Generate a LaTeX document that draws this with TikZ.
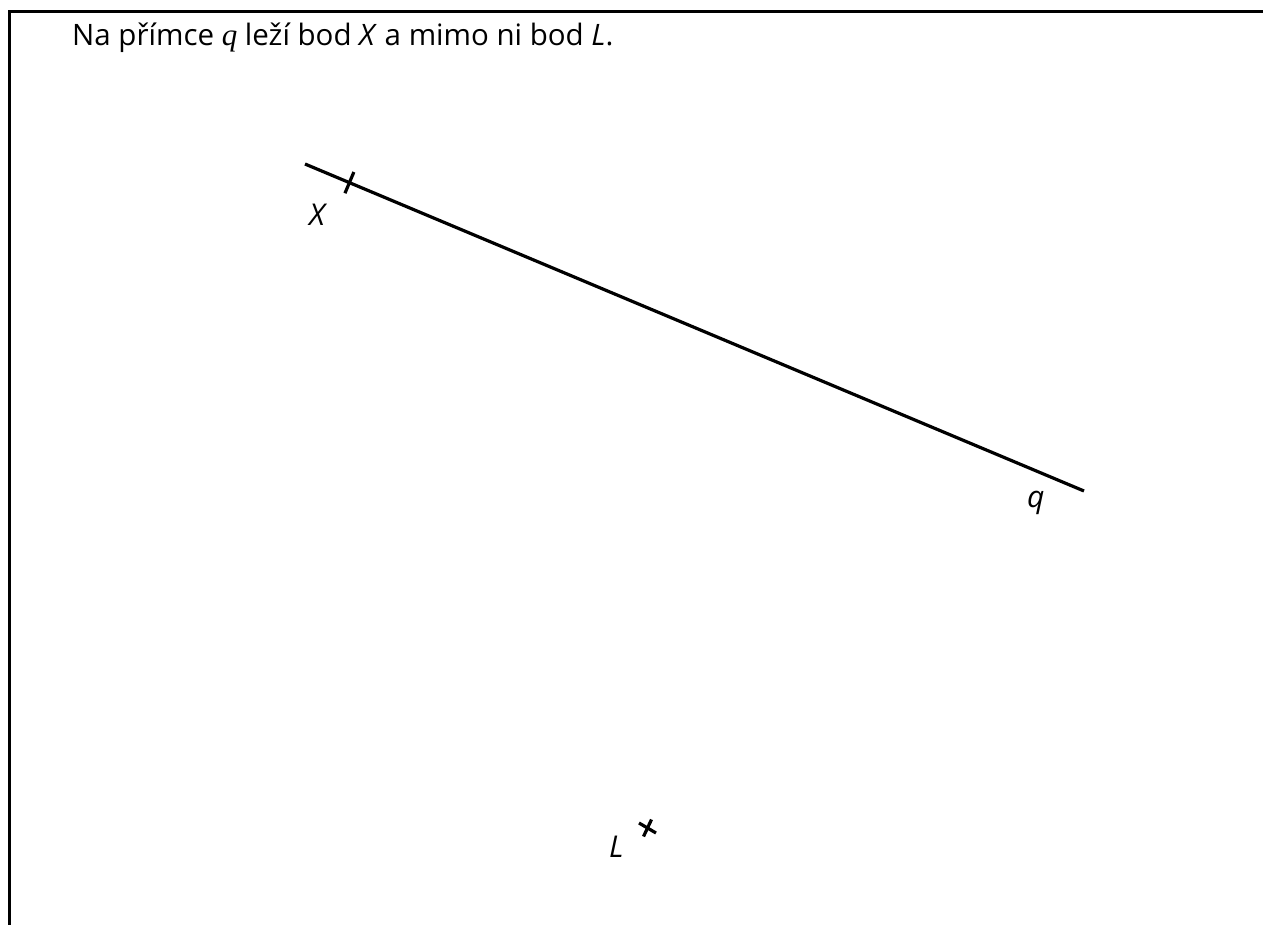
\documentclass[tikz,border=0pt]{standalone}
\usepackage{fontspec}
\setmainfont{Open Sans}
\newfontfamily\serifq{Liberation Serif}
\usetikzlibrary{calc}
\begin{document}
\begin{tikzpicture}[x=1pt,y=-1pt,
  frame/.style={line width=3pt},
  geomline/.style={line width=3.2pt},
  tick/.style={line width=3.2pt},
  lbl/.style={font=\fontsize{30}{36}\selectfont\itshape, inner sep=0pt, anchor=base west},
  title/.style={font=\fontsize{29.5}{35}\selectfont, inner sep=0pt, anchor=base west}]
\useasboundingbox (0,0) rectangle (1263,925);
% frame
\coordinate (FB) at (9.5,925);
\coordinate (FC) at (9.5,11.5);
\coordinate (FR) at (1263,11.5);
\draw[frame] (FB) -- (FC) -- (FR);
% title
\node[title] (T) at (72,46) {Na přímce {\serifq\itshape\fontsize{31}{35}\selectfont q} leží bod \textit{X} a mimo ni bod \textit{L}.};
% line q
\coordinate (A) at (305,164);
\coordinate (B) at (1084,491);
\draw[geomline] (A) -- (B);
\coordinate (X) at ($(A)!0.057!(B)$);
\draw[tick] ($(X)!11.5pt!90:(B)$) -- ($(X)!11.5pt!-90:(B)$);
\node[lbl] (Xl) at (309,226) {X};
\node[lbl] (ql) at (1027,507) {q};
% point L
\coordinate (L) at (647.5,828);
\draw[tick] ([shift={(-8.5,-5)}]L) -- ([shift={(8.5,5)}]L);
\draw[tick] ([shift={(4,-8.5)}]L) -- ([shift={(-4,8.5)}]L);
\node[lbl] (Ll) at (609,857) {L};
\end{tikzpicture}
\end{document}
